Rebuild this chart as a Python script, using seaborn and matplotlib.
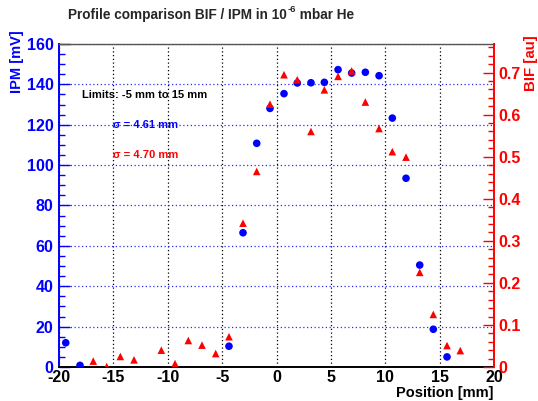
import numpy as np
import pandas as pd
import matplotlib
matplotlib.use('Agg')
import matplotlib.pyplot as plt
import seaborn as sb
from matplotlib.ticker import MultipleLocator

# IPM profile (left axis, mV)
ipm_pos = [-19.38, -18.07, -4.37, -3.08, -1.82, -0.60, 0.69, 1.91, 3.17, 4.40,
           5.66, 6.91, 8.17, 9.43, 10.65, 11.91, 13.17, 14.42, 15.68]
ipm_mv = [12.0, 0.8, 10.3, 66.5, 110.8, 128.1, 135.4, 140.7, 140.8, 141.0,
          147.3, 145.6, 146.0, 144.3, 123.3, 93.5, 50.5, 18.7, 5.0]

# BIF profile (right axis, au)
bif_pos = [-16.85, -15.61, -14.36, -13.10, -10.59, -9.33, -8.11, -6.85, -5.59, -4.37,
           -3.08, -1.82, -0.60, 0.69, 1.91, 3.17, 4.40, 5.66, 6.91, 8.17,
           9.43, 10.65, 11.91, 13.17, 14.42, 15.68, 16.90]
bif_au = [0.014, 0.001, 0.025, 0.017, 0.040, 0.008, 0.063, 0.052, 0.032, 0.072,
          0.342, 0.465, 0.625, 0.695, 0.683, 0.560, 0.659, 0.691, 0.704, 0.630,
          0.567, 0.512, 0.499, 0.225, 0.125, 0.051, 0.039]

title_a = 'Profile comparison BIF / IPM in 10'
title_sup = '-6'
title_b = ' mbar He'

sb.set_style('white')
plt.rcParams['font.family'] = ['Liberation Sans', 'DejaVu Sans']
plt.rcParams['font.weight'] = 'bold'
plt.rcParams['axes.unicode_minus'] = False

fig = plt.figure(figsize=(5.38, 4.01), dpi=100)
ax = fig.add_axes([59 / 538, 34 / 401, 435 / 538, 323 / 401])
ax2 = ax.twinx()

# grid first so the points sit above it
ax.set_axisbelow(True)
ax.yaxis.grid(True, color='#2a2aff', linestyle=(0, (1, 2)), linewidth=0.9)
ax.xaxis.grid(True, color='black', linestyle=(0, (1, 2)), linewidth=0.9)

sb.scatterplot(x=bif_pos, y=bif_au, ax=ax2, color='red', marker='^', s=30,
               edgecolor='none', zorder=3)
sb.scatterplot(x=ipm_pos, y=ipm_mv, ax=ax, color='blue', marker='o', s=30,
               edgecolor='none', zorder=3)

ax.set_xlim(-20, 20)
ax.set_ylim(0, 160)
ax2.set_ylim(0, 0.768)

ax.xaxis.set_major_locator(MultipleLocator(5))
ax.xaxis.set_minor_locator(MultipleLocator(1))
ax.yaxis.set_major_locator(MultipleLocator(20))
ax.yaxis.set_minor_locator(MultipleLocator(5))
ax2.yaxis.set_major_locator(MultipleLocator(0.1))
ax2.yaxis.set_minor_locator(MultipleLocator(0.02))

ax.tick_params(axis='x', which='major', direction='in', length=8, width=1,
               colors='black', labelsize=11.5, pad=2)
ax.tick_params(axis='x', which='minor', direction='in', length=4, width=1, colors='black')
ax.tick_params(axis='y', which='major', direction='in', length=8, width=1,
               colors='blue', labelsize=11.5, pad=4)
ax.tick_params(axis='y', which='minor', direction='in', length=4, width=1, colors='blue')
ax2.tick_params(axis='y', which='major', direction='in', length=8, width=1,
                colors='red', labelsize=11.5, pad=3)
ax2.tick_params(axis='y', which='minor', direction='in', length=4, width=1, colors='red')

ax2.yaxis.set_major_formatter(plt.FuncFormatter(lambda v, p: '0' if abs(v) < 1e-9 else '%g' % v))

for lab in ax.get_xticklabels() + ax.get_yticklabels() + ax2.get_yticklabels():
    lab.set_fontweight('bold')

ax.spines['left'].set_color('blue')
ax.spines['left'].set_linewidth(1.4)
ax.spines['bottom'].set_color('black')
ax.spines['bottom'].set_linewidth(1.4)
ax.spines['top'].set_color('#555555')
ax.spines['top'].set_linewidth(1.0)
ax.spines['right'].set_visible(False)
ax2.spines['left'].set_visible(False)
ax2.spines['top'].set_visible(False)
ax2.spines['bottom'].set_visible(False)
ax2.spines['right'].set_color('red')
ax2.spines['right'].set_linewidth(1.4)

ax.set_xlabel('')
ax.set_ylabel('')
ax2.set_ylabel('')

# title built in pieces so the exponent keeps a plain hyphen
renderer = fig.canvas.get_renderer()
t1 = fig.text(68 / 538, 1 - 15 / 401, title_a, fontsize=9.8, fontweight='bold',
              ha='left', va='center')
x1 = t1.get_window_extent(renderer).x1 / fig.bbox.width
t2 = fig.text(x1 + 0.002, 1 - 10 / 401, title_sup, fontsize=6.8, fontweight='bold',
              ha='left', va='center')
x2 = t2.get_window_extent(renderer).x1 / fig.bbox.width
fig.text(x2, 1 - 15 / 401, title_b, fontsize=9.8, fontweight='bold',
         ha='left', va='center')

fig.text(17 / 538, 1 - 30 / 401, 'IPM [mV]', fontsize=10.5, fontweight='bold',
         color='blue', rotation=90, ha='center', va='top')
fig.text(531 / 538, 1 - 35 / 401, 'BIF [au]', fontsize=10.8, fontweight='bold',
         color='red', rotation=90, ha='center', va='top')
fig.text(494 / 538, 1 - 393 / 401, 'Position [mm]', fontsize=10.5, fontweight='bold',
         color='black', ha='right', va='center')

ax.text(-17.9, 134.7, 'Limits: -5 mm to 15 mm', fontsize=8, fontweight='bold',
        color='black', ha='left', va='center')
ax.text(-15.03, 119.9, '\u03c3 = 4.61 mm', fontsize=8, fontweight='bold',
        color='blue', ha='left', va='center')
ax.text(-15.03, 105.0, '\u03c3 = 4.70 mm', fontsize=8, fontweight='bold',
        color='red', ha='left', va='center')

plt.savefig('out.png', dpi=100, facecolor='white')
